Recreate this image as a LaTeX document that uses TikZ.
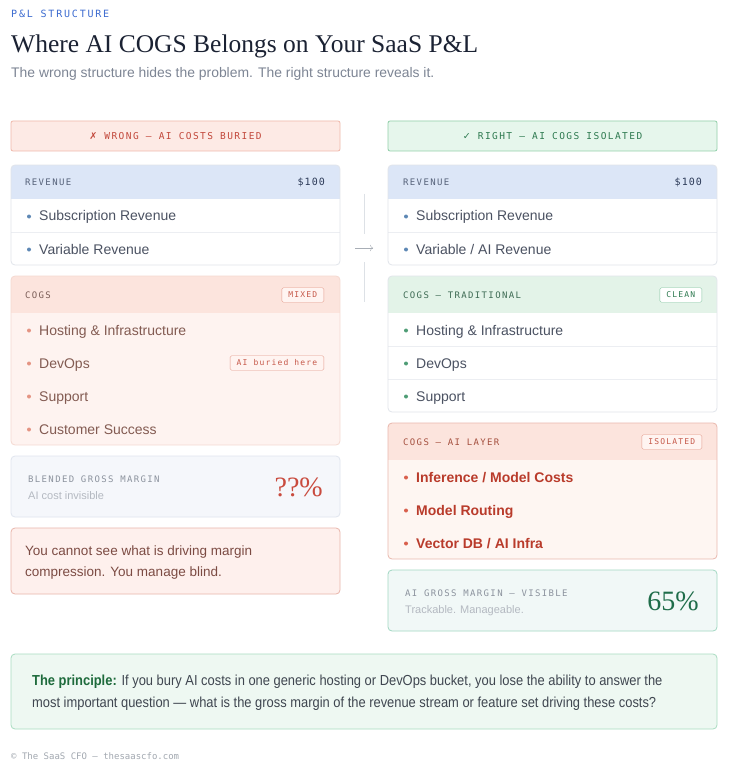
\documentclass[tikz,border=0pt]{standalone}
\usepackage{fontspec}
\usepackage{xcolor}
\usepackage{tikz}
\usetikzlibrary{arrows.meta}
\setmainfont{Liberation Sans}
\newfontfamily\titlefont{Liberation Serif}
\newfontfamily\monowide[LetterSpace=15]{DejaVu Sans Mono}
\newfontfamily\monokicker[LetterSpace=18]{DejaVu Sans Mono}
\newfontfamily\monotight[LetterSpace=10]{DejaVu Sans Mono}
\newfontfamily\monoplain{DejaVu Sans Mono}
\newfontfamily\symfont{DejaVu Sans}
\newfontfamily\narrowfont[FakeStretch=0.89]{Liberation Sans}

\definecolor{kickerblue}{HTML}{3C6BD0}
\definecolor{titleink}{HTML}{1B2233}
\definecolor{subink}{HTML}{7D8594}
\definecolor{wrongfill}{HTML}{FDEAE5}
\definecolor{wrongline}{HTML}{EFB8AA}
\definecolor{wrongink}{HTML}{C2483B}
\definecolor{rightfill}{HTML}{E6F6EC}
\definecolor{rightline}{HTML}{91CFA9}
\definecolor{rightink}{HTML}{2E7A50}
\definecolor{revhead}{HTML}{DCE6F7}
\definecolor{revlabel}{HTML}{56627A}
\definecolor{revamount}{HTML}{2C3A58}
\definecolor{boxline}{HTML}{E1E5EB}
\definecolor{rowline}{HTML}{ECEEF2}
\definecolor{rowink}{HTML}{4B5262}
\definecolor{revdot}{HTML}{5E88B5}
\definecolor{cogshead}{HTML}{FCE4DD}
\definecolor{cogsbody}{HTML}{FEF3F0}
\definecolor{cogsline}{HTML}{F5D9D1}
\definecolor{cogslabel}{HTML}{7B5D57}
\definecolor{cogsink}{HTML}{835B52}
\definecolor{cogsdot}{HTML}{E49483}
\definecolor{tagline}{HTML}{E39B8B}
\definecolor{tagink}{HTML}{C6594A}
\definecolor{tagfill}{HTML}{FFF4F1}
\definecolor{tradhead}{HTML}{E3F3E8}
\definecolor{tradlabel}{HTML}{3E6B54}
\definecolor{traddot}{HTML}{4F9D76}
\definecolor{cleanline}{HTML}{85C6A1}
\definecolor{aibody}{HTML}{FEF6F2}
\definecolor{ailine}{HTML}{E9B8AD}
\definecolor{ailabel}{HTML}{A5503F}
\definecolor{aiink}{HTML}{B93B2B}
\definecolor{aidot}{HTML}{D9604D}
\definecolor{mutedfill}{HTML}{F5F7FB}
\definecolor{mutedline}{HTML}{E0E5EE}
\definecolor{mutedlabel}{HTML}{8C939E}
\definecolor{mutedsub}{HTML}{B4B9C1}
\definecolor{qink}{HTML}{C94B3E}
\definecolor{warnfill}{HTML}{FEF0ED}
\definecolor{warnline}{HTML}{E9B5AB}
\definecolor{warnink}{HTML}{7C4B43}
\definecolor{visfill}{HTML}{F1F8F7}
\definecolor{visline}{HTML}{A2D8C3}
\definecolor{visink}{HTML}{1F6D4A}
\definecolor{principfill}{HTML}{EEF8F2}
\definecolor{principline}{HTML}{A9DCC1}
\definecolor{principbold}{HTML}{1E6B3C}
\definecolor{principink}{HTML}{3F4650}
\definecolor{footink}{HTML}{A2A8B0}
\definecolor{arrowgray}{HTML}{A8AEB6}
\definecolor{divider}{HTML}{DDE1E6}

\begin{document}
\begin{tikzpicture}[x=1pt, y=-1pt,
            tag/.style = {anchor=base west, inner sep=0pt,
                        font=\monowide\fontsize{9}{10}\selectfont},
            item/.style = {anchor=base west, inner sep=0pt,
                        font=\fontsize{14}{16}\selectfont},
            badge/.style = {draw, rounded corners=1.5pt, anchor=east,
                        inner xsep=6.5pt, inner ysep=0pt, minimum height=14.5pt,
                        text height=5.5pt, text depth=0pt,
                        font=\monowide\fontsize{8}{9}\selectfont},
            banner/.style = {draw, rounded corners=2pt, line width=0.8pt,
                        minimum width=329pt, minimum height=30pt,
                        font=\monowide\fontsize{9.5}{10}\selectfont},
            panel/.style = {rounded corners=4pt, line width=0.8pt}]
            \fill[white] (0,0) rectangle (732,767);
            \useasboundingbox (0,0) rectangle (732,767);

            % Heading
            \node[tag, text=kickerblue, font=\monokicker\fontsize{10}{11}\selectfont] (kicker) at (11,18) {P\&L STRUCTURE};
            \node[anchor=base west, inner sep=0pt, text=titleink,
                  font=\titlefont\fontsize{25.5}{28}\selectfont] (title) at (11,53) {Where AI COGS Belongs on Your SaaS P\&L};
            \node[anchor=base west, inner sep=0pt, text=subink,
                  font=\fontsize{13.9}{15}\selectfont] (subtitle) at (11,78) {The wrong structure hides the problem. The right structure reveals it.};

            % Banners
            \node[banner, fill=wrongfill, draw=wrongline, text=wrongink] (wrong) at (175.5,136) {{\symfont\fontsize{9.5}{10}\selectfont ✗} WRONG — AI COSTS BURIED};
            \node[banner, fill=rightfill, draw=rightline, text=rightink] (right) at (552.5,136) {{\symfont\fontsize{9.5}{10}\selectfont ✓} RIGHT — AI COGS ISOLATED};

            % Revenue, left
            \begin{scope}
                \clip[rounded corners=4pt] (11,165) rectangle (340,265);
                \fill[white] (11,165) rectangle (340,265);
                \fill[revhead] (11,165) rectangle (340,199);
                \draw[rowline] (11,232.5) -- (340,232.5);
            \end{scope}
            \draw[panel, draw=boxline] (11,165) rectangle (340,265);
            \node[tag, text=revlabel] (lrev) at (25,185.5) {REVENUE};
            \node[anchor=base east, inner sep=0pt, text=revamount,
                  font=\monotight\fontsize{10}{11}\selectfont] (lamount) at (325,186) {\$100};
            \foreach \y/\txt [count=\i] in {221/{Subscription Revenue}, 254/{Variable Revenue}} {
                \fill[revdot] (29,\y-4.5) circle (2pt);
                \node[item, text=rowink] (lrow\i) at (39,\y) {\txt};
            }

            % Revenue, right
            \begin{scope}
                \clip[rounded corners=4pt] (388,165) rectangle (717,265);
                \fill[white] (388,165) rectangle (717,265);
                \fill[revhead] (388,165) rectangle (717,199);
                \draw[rowline] (388,232.5) -- (717,232.5);
            \end{scope}
            \draw[panel, draw=boxline] (388,165) rectangle (717,265);
            \node[tag, text=revlabel] (rrev) at (403,185.5) {REVENUE};
            \node[anchor=base east, inner sep=0pt, text=revamount,
                  font=\monotight\fontsize{10}{11}\selectfont] (ramount) at (702,186) {\$100};
            \foreach \y/\txt [count=\i] in {221/{Subscription Revenue}, 254/{Variable / AI Revenue}} {
                \fill[revdot] (406,\y-4.5) circle (2pt);
                \node[item, text=rowink] (rrow\i) at (416,\y) {\txt};
            }

            % Divider and arrow
            \coordinate (gapA) at (364,194);
            \coordinate (gapB) at (364,234);
            \coordinate (gapC) at (364,262);
            \coordinate (gapD) at (364,302);
            \coordinate (arrowfrom) at (355,248);
            \coordinate (arrowto) at (373,248);
            \draw[divider] (gapA) -- (gapB);
            \draw[divider] (gapC) -- (gapD);
            \draw[arrowgray, -{To[length=3pt]}] (arrowfrom) -- (arrowto);

            % COGS, left (mixed)
            \begin{scope}
                \clip[rounded corners=4pt] (11,276) rectangle (340,445);
                \fill[cogsbody] (11,276) rectangle (340,445);
                \fill[cogshead] (11,276) rectangle (340,313);
            \end{scope}
            \draw[panel, draw=cogsline] (11,276) rectangle (340,445);
            \node[tag, text=cogslabel] (lcogs) at (25,298.5) {COGS};
            \node[badge, draw=tagline, text=tagink, fill=tagfill] (mixed) at (324,295) {MIXED};
            \foreach \y/\txt [count=\i] in {335/{Hosting \& Infrastructure}, 368/{DevOps}, 401/{Support}, 434/{Customer Success}} {
                \fill[cogsdot] (29,\y-4.5) circle (2pt);
                \node[item, text=cogsink] (litem\i) at (39,\y) {\txt};
            }
            \node[badge, draw=tagline, text=tagink, fill=tagfill] (buried) at (324,363) {AI buried here};

            % Blended margin
            \draw[panel, draw=mutedline, fill=mutedfill] (11,456) rectangle (340,517);
            \node[tag, text=mutedlabel] (blended) at (28,482.5) {BLENDED GROSS MARGIN};
            \node[anchor=base west, inner sep=0pt, text=mutedsub,
                  font=\fontsize{11}{13}\selectfont] (invisible) at (28,499) {AI cost invisible};
            \node[anchor=base east, inner sep=0pt, text=qink,
                  font=\titlefont\fontsize{28}{30}\selectfont] (unknown) at (323,496) {??\%};

            % Warning note
            \draw[panel, draw=warnline, fill=warnfill] (11,528) rectangle (340,594);
            \node[anchor=base west, inner sep=0pt, text=warnink,
                  font=\fontsize{13.5}{15}\selectfont] (blind1) at (25,555) {You cannot see what is driving margin};
            \node[anchor=base west, inner sep=0pt, text=warnink,
                  font=\fontsize{13.5}{15}\selectfont] (blind2) at (25,576) {compression. You manage blind.};

            % COGS, right (traditional)
            \begin{scope}
                \clip[rounded corners=4pt] (388,276) rectangle (717,412);
                \fill[white] (388,276) rectangle (717,412);
                \fill[tradhead] (388,276) rectangle (717,313);
                \draw[rowline] (388,346.5) -- (717,346.5);
                \draw[rowline] (388,379.5) -- (717,379.5);
            \end{scope}
            \draw[panel, draw=boxline] (388,276) rectangle (717,412);
            \node[tag, text=tradlabel] (tcogs) at (403,298.5) {COGS — TRADITIONAL};
            \node[badge, draw=cleanline, text=rightink, fill=white] (clean) at (702,295) {CLEAN};
            \foreach \y/\txt [count=\i] in {335/{Hosting \& Infrastructure}, 368/{DevOps}, 401/{Support}} {
                \fill[traddot] (406,\y-4.5) circle (2pt);
                \node[item, text=rowink] (titem\i) at (416,\y) {\txt};
            }

            % COGS, right (AI layer)
            \begin{scope}
                \clip[rounded corners=4pt] (388,423) rectangle (717,559);
                \fill[aibody] (388,423) rectangle (717,559);
                \fill[cogshead] (388,423) rectangle (717,460);
            \end{scope}
            \draw[panel, draw=ailine] (388,423) rectangle (717,559);
            \node[tag, text=ailabel] (aicogs) at (403,445.5) {COGS — AI LAYER};
            \node[badge, draw=tagline, text=tagink, fill=tagfill] (isolated) at (702,442) {ISOLATED};
            \foreach \y/\txt [count=\i] in {482/{Inference / Model Costs}, 515/{Model Routing}, 548/{Vector DB / AI Infra}} {
                \fill[aidot] (406,\y-4.5) circle (2pt);
                \node[item, text=aiink, font=\bfseries\fontsize{14}{16}\selectfont] (aitem\i) at (416,\y) {\txt};
            }

            % Visible margin
            \draw[panel, draw=visline, fill=visfill] (388,570) rectangle (717,631);
            \node[tag, text=mutedlabel] (visible) at (405,596.5) {AI GROSS MARGIN — VISIBLE};
            \node[anchor=base west, inner sep=0pt, text=mutedsub,
                  font=\fontsize{11}{13}\selectfont] (trackable) at (405,613) {Trackable. Manageable.};
            \node[anchor=base east, inner sep=0pt, text=visink,
                  font=\titlefont\fontsize{28}{30}\selectfont] (known) at (699,610) {65\%};

            % Principle
            \draw[panel, draw=principline, fill=principfill] (11,654) rectangle (717,729);
            \node[anchor=base west, inner sep=0pt, text=principink,
                  font=\narrowfont\fontsize{14.5}{16}\selectfont] (principle1) at (32,685)
                  {\textcolor{principbold}{\bfseries The principle:} If you bury AI costs in one generic hosting or DevOps bucket, you lose the ability to answer the};
            \node[anchor=base west, inner sep=0pt, text=principink,
                  font=\narrowfont\fontsize{14.5}{16}\selectfont] (principle2) at (32,707)
                  {most important question — what is the gross margin of the revenue stream or feature set driving these costs?};

            % Footer
            \node[anchor=base west, inner sep=0pt, text=footink,
                  font=\monoplain\fontsize{9}{10}\selectfont] (footer) at (11,759) {© The SaaS CFO — thesaascfo.com};
        \end{tikzpicture}
\end{document}
